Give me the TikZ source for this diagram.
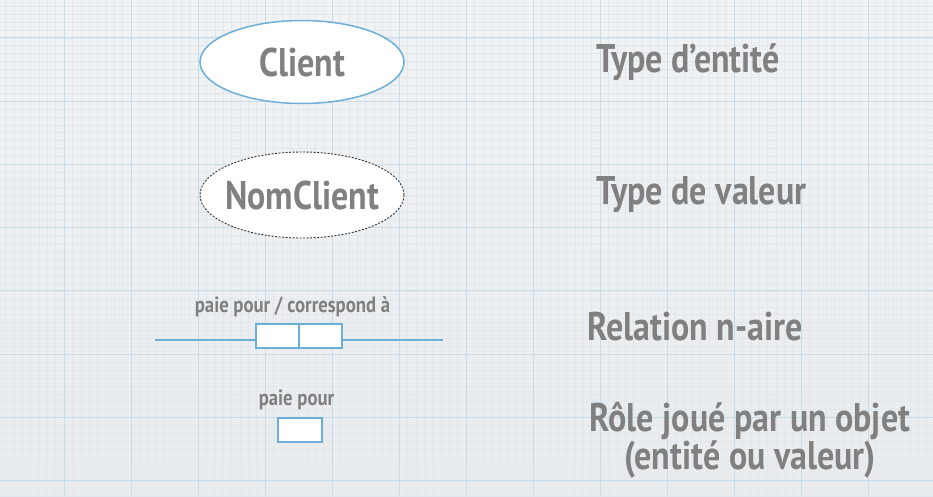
\documentclass[tikz,border=0pt]{standalone}
\usepackage{fontspec}
\setmainfont{PT Sans}
\newfontfamily\hand[FakeStretch=0.85]{PT Sans}
\usetikzlibrary{shapes,positioning}

\definecolor{papertop}{HTML}{F1F2F4}
\definecolor{paperbot}{HTML}{EAEBED}
\definecolor{minorline}{HTML}{DFE8EF}
\definecolor{majorline}{HTML}{C6DCEA}
\definecolor{linkblue}{HTML}{6EAFD7}
\definecolor{chalk}{HTML}{808080}

\tikzset{
  big/.style={font=\hand\bfseries\fontsize{40}{33}\selectfont, text=chalk, inner sep=0pt},
  small/.style={font=\hand\bfseries\fontsize{22}{24}\selectfont, text=chalk, inner sep=0pt},
  entity/.style={ellipse, draw=linkblue, line width=1.5pt, fill=white,
    minimum width=204pt, minimum height=83pt, inner sep=0pt},
  value/.style={ellipse, draw=black!80, dash pattern=on 2pt off 1.5pt, line width=0.9pt,
    fill=white, minimum width=204pt, minimum height=86pt, inner sep=0pt},
  rolebox/.style={rectangle, draw=linkblue, line width=1.5pt, fill=white,
    minimum width=43pt, minimum height=24pt, inner sep=0pt},
  link/.style={draw=linkblue, line width=1.5pt}
}

\begin{document}
\begin{tikzpicture}[x=1pt,y=-1pt]
\useasboundingbox (0,0) rectangle (933,496);
% graph paper
\shade[top color=papertop, bottom color=paperbot] (0,0) rectangle (933,496);
\foreach \i in {0,...,112}
\draw[minorline, line width=0.4pt] ({-3+\i*67/8},0) -- ({-3+\i*67/8},496);
\foreach \j in {0,...,66}
\draw[minorline, line width=0.4pt] (0,{-25.6+\j*63.3/8}) -- (933,{-25.6+\j*63.3/8});
\foreach \i in {0,...,14}
\draw[majorline, line width=1pt] ({-3+\i*67},0) -- ({-3+\i*67},496);
\foreach \j in {0,...,8}
\draw[majorline, line width=1pt] (0,{-25.6+\j*63.3}) -- (933,{-25.6+\j*63.3});

% symbols
\node[entity, label={[big]center:Client}] (client) at (302,62) {};
\node[value, label={[big]center:NomClient}] (nomclient) at (302,195) {};

\coordinate (relL) at (155,340);
\coordinate (relR) at (443,340);
\node[rolebox] (rel1) at (277.5,336) {};
\node[rolebox] (rel2) at (320.5,336) {};
\draw[link] (relL) -- (relL -| rel1.west);
\draw[link] (rel2.east |- relR) -- (relR);
\node[small, anchor=base] (relname) at (292.5,312) {paie pour / correspond à};

\node[rolebox, minimum width=44pt] (role) at (300,430) {};
\node[small, anchor=base] (rolename) at (296.5,405) {paie pour};

% legend
\node[big, anchor=base west] (tentity) at (596,72) {Type d’entité};
\node[big, anchor=base west] (tvalue) at (596,204) {Type de valeur};
\node[big, anchor=base west] (trel) at (587,340) {Relation n-aire};
\node[big, align=center] (trole) at (750,440) {Rôle joué par un objet\\(entité ou valeur)};
\end{tikzpicture}
\end{document}
